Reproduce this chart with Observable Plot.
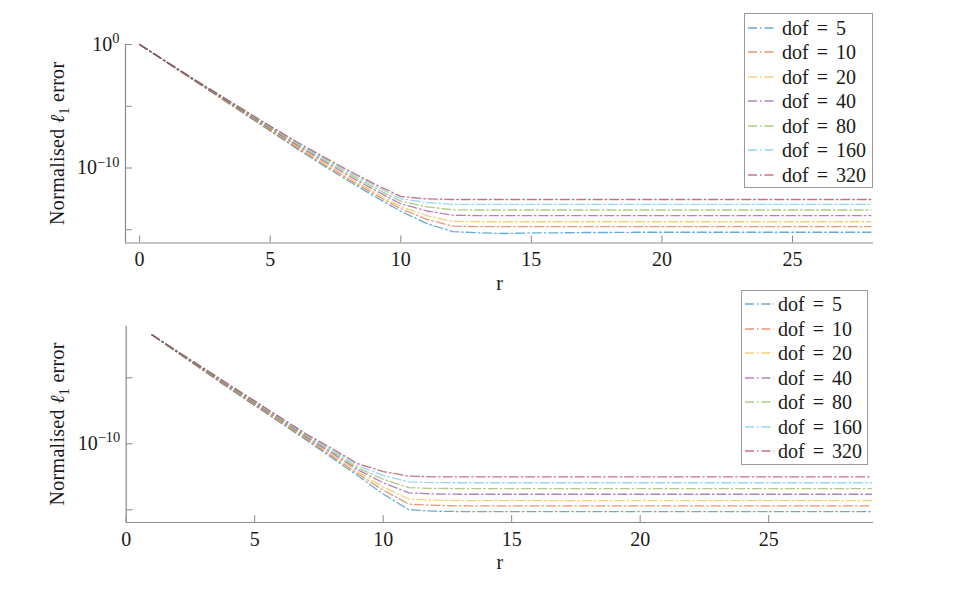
<!DOCTYPE html>
<html><head><meta charset="utf-8">
<script src="https://cdn.jsdelivr.net/npm/d3@7"></script>
<script src="https://cdn.jsdelivr.net/npm/@observablehq/plot@0.6"></script>
<style>
body{margin:0;background:#fff;}
#wrap{position:relative;width:966px;height:592px;font-family:"Liberation Serif",serif;color:#1a1a1a;overflow:hidden;}
#top,#bot{position:absolute;left:0;}
#top{top:0}#bot{top:300px}
.legend{position:absolute;border:1px solid #9a9a9a;background:#fff;box-sizing:border-box;}
.row{position:absolute;left:0;height:24px;width:100%;font-size:20px;white-space:pre;word-spacing:3px;}
.row svg{position:absolute;top:0;}
.row span{position:absolute;top:0;line-height:24px;}
</style></head><body>
<div id="wrap"><div id="top"></div><div id="bot"></div></div>
<script>
// ---------- data ----------
const dofs = [5, 10, 20, 40, 80, 160, 320];
const colors = ["#0072BD", "#D95319", "#EDB120", "#7E2F8E", "#77AC30", "#4DBEEE", "#A2142F"];
const xTickValues = [0, 5, 10, 15, 20, 25];

// top panel: r = 0..28, log10 of normalised l1 error
const rTop = [0,1,2,3,4,5,6,7,8,9,10,11,12,13,14,15,16,17,18,19,20,21,22,23,24,25,26,27,28];
const top5   = [0,-1.4,-2.8,-4.2,-5.6,-7.0,-8.4,-9.75,-11.05,-12.3,-13.5,-14.5,-15.15,-15.25,-15.3,-15.25,-15.25,-15.22,-15.22,-15.2,-15.2,-15.2,-15.2,-15.2,-15.2,-15.2,-15.2,-15.2,-15.2];
const top10  = [0,-1.39,-2.78,-4.17,-5.55,-6.93,-8.31,-9.63,-10.91,-12.13,-13.3,-14.16,-14.71,-14.75,-14.75,-14.75,-14.75,-14.75,-14.75,-14.75,-14.75,-14.75,-14.75,-14.75,-14.75,-14.75,-14.75,-14.75,-14.75];
const top20  = [0,-1.38,-2.77,-4.14,-5.5,-6.87,-8.22,-9.53,-10.78,-11.98,-13.12,-13.86,-14.32,-14.35,-14.35,-14.35,-14.35,-14.35,-14.35,-14.35,-14.35,-14.35,-14.35,-14.35,-14.35,-14.35,-14.35,-14.35,-14.35];
const top40  = [0,-1.37,-2.75,-4.1,-5.45,-6.8,-8.12,-9.39,-10.62,-11.79,-12.89,-13.48,-13.82,-13.85,-13.85,-13.85,-13.85,-13.85,-13.85,-13.85,-13.85,-13.85,-13.85,-13.85,-13.85,-13.85,-13.85,-13.85,-13.85];
const top80  = [0,-1.37,-2.73,-4.06,-5.4,-6.73,-8.03,-9.27,-10.47,-11.62,-12.68,-13.14,-13.38,-13.4,-13.4,-13.4,-13.4,-13.4,-13.4,-13.4,-13.4,-13.4,-13.4,-13.4,-13.4,-13.4,-13.4,-13.4,-13.4];
const top160 = [0,-1.36,-2.72,-4.03,-5.35,-6.66,-7.93,-9.16,-10.33,-11.45,-12.48,-12.8,-12.94,-12.95,-12.95,-12.95,-12.95,-12.95,-12.95,-12.95,-12.95,-12.95,-12.95,-12.95,-12.95,-12.95,-12.95,-12.95,-12.95];
const top320 = [0,-1.35,-2.7,-4.0,-5.3,-6.6,-7.85,-9.05,-10.2,-11.3,-12.3,-12.5,-12.55,-12.55,-12.55,-12.55,-12.55,-12.55,-12.55,-12.55,-12.55,-12.55,-12.55,-12.55,-12.55,-12.55,-12.55,-12.55,-12.55];

// bottom panel: r = 1..29, log10 of normalised l1 error
const rBot = [1,2,3,4,5,6,7,8,9,10,11,12,13,14,15,16,17,18,19,20,21,22,23,24,25,26,27,28,29];
const bot5   = [-1.74,-3.1,-4.45,-5.8,-7.1,-8.4,-9.7,-11.05,-12.4,-13.8,-15.0,-15.1,-15.13,-15.13,-15.13,-15.13,-15.13,-15.13,-15.13,-15.13,-15.13,-15.13,-15.13,-15.13,-15.13,-15.13,-15.13,-15.13,-15.13];
const bot10  = [-1.74,-3.08,-4.42,-5.75,-7.04,-8.33,-9.62,-10.93,-12.25,-13.51,-14.57,-14.66,-14.7,-14.7,-14.7,-14.7,-14.7,-14.7,-14.7,-14.7,-14.7,-14.7,-14.7,-14.7,-14.7,-14.7,-14.7,-14.7,-14.7];
const bot20  = [-1.74,-3.07,-4.39,-5.7,-6.99,-8.27,-9.56,-10.83,-12.11,-13.26,-14.18,-14.27,-14.3,-14.3,-14.3,-14.3,-14.3,-14.3,-14.3,-14.3,-14.3,-14.3,-14.3,-14.3,-14.3,-14.3,-14.3,-14.3,-14.3];
const bot40  = [-1.74,-3.05,-4.35,-5.65,-6.93,-8.2,-9.48,-10.7,-11.95,-12.95,-13.72,-13.8,-13.82,-13.82,-13.82,-13.82,-13.82,-13.82,-13.82,-13.82,-13.82,-13.82,-13.82,-13.82,-13.82,-13.82,-13.82,-13.82,-13.82];
const bot80  = [-1.74,-3.03,-4.32,-5.6,-6.87,-8.14,-9.4,-10.59,-11.81,-12.68,-13.32,-13.38,-13.39,-13.39,-13.39,-13.39,-13.39,-13.39,-13.39,-13.39,-13.39,-13.39,-13.39,-13.39,-13.39,-13.39,-13.39,-13.39,-13.39];
const bot160 = [-1.74,-3.02,-4.28,-5.55,-6.81,-8.07,-9.33,-10.47,-11.65,-12.39,-12.88,-12.94,-12.95,-12.95,-12.95,-12.95,-12.95,-12.95,-12.95,-12.95,-12.95,-12.95,-12.95,-12.95,-12.95,-12.95,-12.95,-12.95,-12.95];
const bot320 = [-1.74,-3.0,-4.25,-5.5,-6.75,-8.0,-9.25,-10.35,-11.5,-12.1,-12.45,-12.5,-12.5,-12.5,-12.5,-12.5,-12.5,-12.5,-12.5,-12.5,-12.5,-12.5,-12.5,-12.5,-12.5,-12.5,-12.5,-12.5,-12.5];

const topSeries = [top5, top10, top20, top40, top80, top160, top320];
const botSeries = [bot5, bot10, bot20, bot40, bot80, bot160, bot320];

// ---------- build tables ----------
function rows(rs, series) {
  const out = [];
  series.forEach((s, k) => s.forEach((v, i) => out.push({r: rs[i], err: Math.pow(10, v), dof: dofs[k]})));
  return out;
}
const topRows = rows(rTop, topSeries);
const botRows = rows(rBot, botSeries);

const axisGray = "#8a8a8a";
const textCol = "#1a1a1a";
const dash = "9,3,1.5,3";
const FS = 20;

function panel({rowsData, width, height, mL, mR, mT, mB, xDom, yDom, yTickMarks, yLabelTicks, labelDy}) {
  const innerW = width - mL - mR, innerH = height - mT - mB;
  const svg = Plot.plot({
    width, height, marginLeft: mL, marginRight: mR, marginTop: mT, marginBottom: mB,
    x: {domain: xDom},
    y: {type: "log", domain: yDom},
    color: {domain: dofs, range: colors},
    style: {fontFamily: "Liberation Serif", fontSize: FS + "px", background: "transparent", color: textCol},
    marks: [
      Plot.line(rowsData, {x: "r", y: "err", z: "dof", stroke: "dof", strokeWidth: 1.3, strokeOpacity: 0.6, strokeDasharray: dash}),
      Plot.ruleX([xDom[0]], {stroke: axisGray, strokeWidth: 1.2}),
      Plot.ruleY([yDom[0]], {stroke: axisGray, strokeWidth: 1.2}),
      Plot.tickX(xTickValues, {x: d => d, insetTop: innerH - 7, stroke: axisGray}),
      Plot.tickY(yTickMarks, {y: d => d, insetRight: innerW - 7, stroke: axisGray}),
      Plot.axisX({ticks: xTickValues, tickSize: 0, tickPadding: 9, label: null, fontSize: FS, tickFormat: d => String(d)}),
      Plot.axisY({ticks: yLabelTicks, tickSize: 0, tickPadding: 6, label: null, fontSize: FS,
        tickFormat: d => "10^" + Math.round(Math.log10(d))}),
      Plot.text(["r"], {frameAnchor: "bottom", dy: labelDy, fontSize: FS, fill: textCol})
    ]
  });
  // superscripts on y tick labels
  d3.select(svg).selectAll('g[aria-label="y-axis tick label"] text').each(function() {
    const [b, e] = this.textContent.split("^");
    const t = d3.select(this);
    t.text(b);
    t.append("tspan").attr("dy", "-0.55em").attr("font-size", "0.72em").text(e.replace("-", "\u2212"));
  });
  // y axis title with subscript
  const cy = mT + innerH / 2;
  const yl = d3.select(svg).append("text")
    .attr("transform", `translate(57,${cy}) rotate(-90)`)
    .attr("text-anchor", "middle").attr("dy", "0.35em")
    .attr("font-size", FS).attr("fill", textCol).attr("letter-spacing", "0.3px");
  yl.append("tspan").text("Normalised ");
  yl.append("tspan").attr("font-style", "italic").text("\u2113");
  yl.append("tspan").attr("font-size", "0.7em").attr("dy", "0.35em").text("1");
  yl.append("tspan").attr("dy", "-0.24em").text(" error");
  return svg;
}

document.getElementById("top").appendChild(panel({
  rowsData: topRows, width: 966, height: 300, mL: 125, mR: 93, mT: 44, mB: 57.5,
  xDom: [-0.54, 28.1], yDom: [Math.pow(10, -16.07), 1],
  yTickMarks: [1, 1e-5, 1e-10, 1e-15], yLabelTicks: [1, 1e-10], labelDy: 47
}));
document.getElementById("bot").appendChild(panel({
  rowsData: botRows, width: 966, height: 292, mL: 125.7, mR: 93, mT: 25.7, mB: 70,
  xDom: [0, 29.08], yDom: [Math.pow(10, -15.96), Math.pow(10, -1.09)],
  yTickMarks: [1e-5, 1e-10, 1e-15], yLabelTicks: [1e-10], labelDy: 46.5
}));

// ---------- legends ----------
function legend(left, top, width, height, firstRow, lineX0, lineX1, textX) {
  const box = document.createElement("div");
  box.className = "legend";
  Object.assign(box.style, {left: left + "px", top: top + "px", width: width + "px", height: height + "px"});
  dofs.forEach((d, i) => {
    const row = document.createElement("div");
    row.className = "row";
    row.style.top = (firstRow + 24.5 * i - 12) + "px";
    const ns = "http://www.w3.org/2000/svg";
    const s = document.createElementNS(ns, "svg");
    s.setAttribute("width", lineX1 + 2); s.setAttribute("height", 24);
    const l = document.createElementNS(ns, "line");
    l.setAttribute("x1", lineX0); l.setAttribute("x2", lineX1);
    l.setAttribute("y1", 12); l.setAttribute("y2", 12);
    l.setAttribute("stroke", colors[i]); l.setAttribute("stroke-opacity", 0.6);
    l.setAttribute("stroke-width", 1.3); l.setAttribute("stroke-dasharray", dash);
    s.appendChild(l);
    row.appendChild(s);
    const sp = document.createElement("span");
    sp.style.left = textX + "px";
    sp.textContent = "dof = " + d;
    row.appendChild(sp);
    box.appendChild(row);
  });
  document.getElementById("wrap").appendChild(box);
}
legend(744, 13, 129, 175, 13.7, 3, 31, 37);
legend(741, 290, 127, 175, 13.3, 3, 32, 36);
</script>
</body></html>
